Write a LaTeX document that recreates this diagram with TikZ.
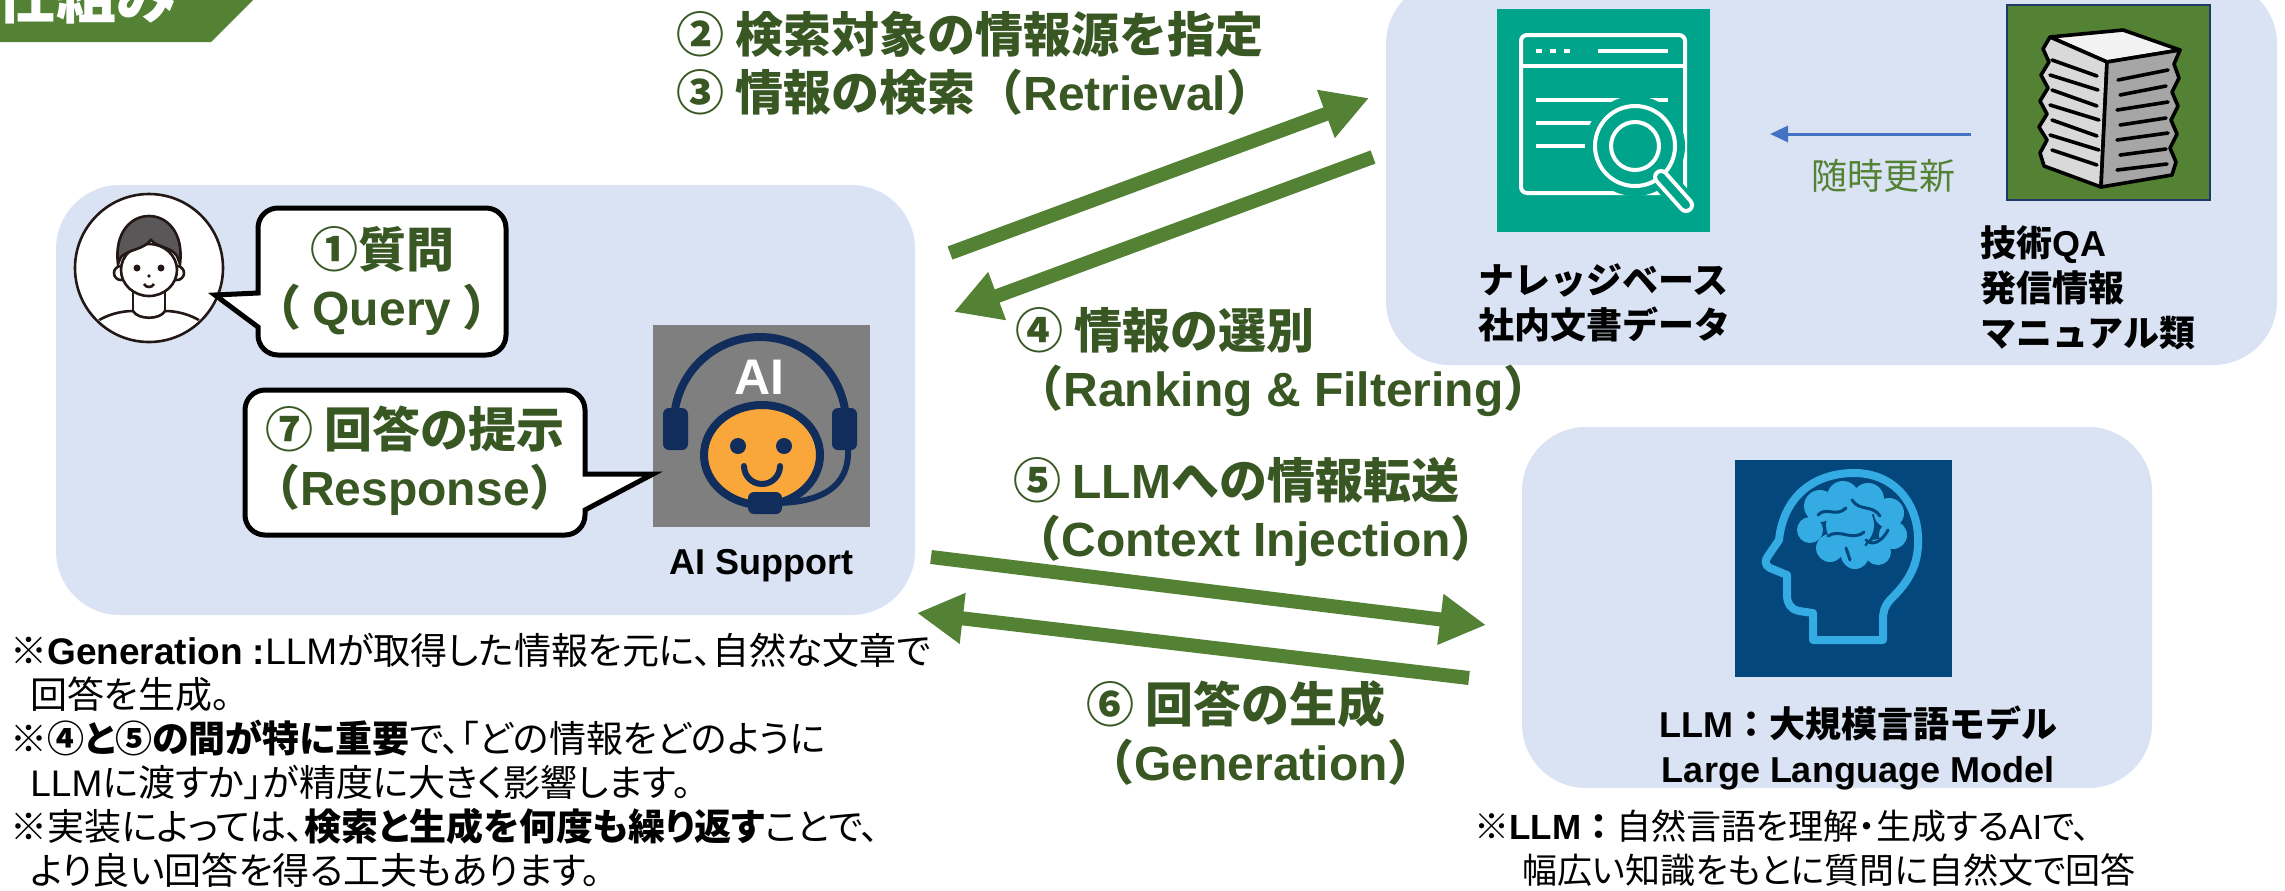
\documentclass[tikz,border=0pt]{standalone}
\usepackage{fontspec}
\setmainfont{Noto Sans CJK JP}
\newfontfamily\latinfont{Liberation Sans}
\newfontfamily\jpnote[RawFeature=+palt]{Noto Sans CJK JP}
\usetikzlibrary{arrows.meta}
\usetikzlibrary{fit}
\usetikzlibrary{positioning}

\definecolor{panelblue}{RGB}{218,227,243}
\definecolor{flowgreen}{RGB}{84,130,53}
\definecolor{labelgreen}{RGB}{56,87,35}
\definecolor{updateblue}{RGB}{68,114,196}
\definecolor{icongrey}{RGB}{127,127,127}
\definecolor{headsetnavy}{RGB}{17,45,92}
\definecolor{faceorange}{RGB}{249,167,58}
\definecolor{kbteal}{RGB}{0,164,138}
\definecolor{docborder}{RGB}{31,56,100}
\definecolor{llmnavy}{RGB}{3,71,124}
\definecolor{brainblue}{RGB}{52,171,226}
\definecolor{personline}{RGB}{35,24,21}
\definecolor{hairgrey}{RGB}{89,87,87}

\tikzset {
  panel/.style = {
    fill = panelblue,
    rounded corners = 32pt,
    inner sep = 0
  },
  % speech bubble with a pointed tail
  bubble/.style = {
    draw = black,
    fill = white,
    line width = 2.5pt
  },
  bubble text/.style = {
    text = labelgreen,
    font = \fontsize{24}{29}\selectfont\bfseries,
    align = center,
    inner sep = 0
  },
  % thick green step arrow
  flow/.style = {
    draw = flowgreen,
    line width = 7pt,
    -{Triangle[length = 23pt, width = 24pt]}
  },
  flow label/.style = {
    text = labelgreen,
    font = \fontsize{24}{29}\selectfont\bfseries,
    align = left,
    inner sep = 0,
    anchor = west
  },
  update/.style = {
    draw = updateblue,
    line width = 1.5pt,
    -{Triangle[length = 9pt, width = 8pt]}
  },
  caption/.style = {
    font = \fontsize{18}{22.5}\selectfont\bfseries,
    align = left,
    inner sep = 0
  },
  note/.style = {
    font = \jpnote\fontsize{18.5}{22}\selectfont,
    align = left,
    inner sep = 0,
    anchor = west
  },
  icon/.style = {
    inner sep = 0
  },
  person/.style = {
    draw = personline,
    line width = 1.3pt
  },
  kbline/.style = {
    draw = white,
    line width = 2pt
  },
  paper/.style = {
    draw = black,
    line width = 1.8pt,
    line join = round,
    line cap = round
  }
}

\begin{document}
\begin{tikzpicture}[x = 0.5pt, y = -0.5pt]
    \useasboundingbox (0,0) rectangle (2285,890);
    \fill[white] (0,0) rectangle (2285,890);

    % title tab
    \fill[flowgreen] (0,-10) -- (263,-10) -- (211,42) -- (0,42) -- cycle;
    \node[anchor = base west, inner sep = 0, text = white,
      font = \fontsize{30}{30}\selectfont\bfseries] (title) at (-4,18) {仕組み};

    % panels
    \node[panel, fit = {(56,185) (915,615)}] (user panel) {};
    \node[panel, fit = {(1386,-20) (2277,365)}] (source panel) {};
    \node[panel, fit = {(1522,427) (2152,788)}] (llm panel) {};

    % user
    \node[person, circle, fill = white, minimum size = 74pt, inner sep = 0] (user) at (149,268) {};
    \begin{scope}
      \clip (149,268) circle (72);
      \draw[person] (96,322) .. controls (108,314) and (122,311) .. (133,311);
      \draw[person] (165,311) .. controls (176,311) and (190,314) .. (202,322);
    \end{scope}
    \draw[person] (133,311) .. controls (138,320) and (160,320) .. (165,311);
    \draw[person] (133,290) -- (133,311);
    \draw[person] (165,290) -- (165,311);
    \draw[person, fill = white] (121,273) circle (7);
    \draw[person, fill = white] (177,273) circle (7);
    \draw[person, fill = white] (149,270) ellipse [x radius = 28, y radius = 26];
    \draw[person, fill = hairgrey] (118,264) .. controls (110,200) and (188,200) .. (180,264)
      -- (177,256) .. controls (170,246) and (158,248) .. (151,240)
      .. controls (143,250) and (129,249) .. (121,257) -- cycle;
    \fill[personline] (137,268) circle (3.5);
    \fill[personline] (161,268) circle (3.5);
    \fill[personline] (149,276) circle (1.8);
    \draw[person] (144,284) .. controls (146,288) and (152,288) .. (154,284);

    % question bubble
    \draw[bubble] (258,293) [rounded corners = 10pt] -- (258,208) -- (506,208)
      -- (506,355) -- (258,355) [sharp corners] -- (258,327) -- (215,295) -- cycle;
    \node[bubble text] (query) at (382,281) {①質問\\（ {\latinfont Query} ）};

    % AI support
    \node[icon, fill = icongrey, fit = {(653,325) (870,527)}] (ai icon) {};
    \draw[headsetnavy, line width = 4pt] (674,423) arc[start angle = 180, end angle = 360, radius = 86];
    \fill[headsetnavy, rounded corners = 3pt] (663,408) rectangle (688,450);
    \fill[headsetnavy, rounded corners = 3pt] (832,408) rectangle (857,450);
    \node[text = white, inner sep = 0, font = \latinfont\fontsize{25}{25}\selectfont\bfseries]
      (ai text) at (759,377) {AI};
    \draw[headsetnavy, line width = 4pt, fill = faceorange] (762,455) ellipse [x radius = 58, y radius = 50];
    \fill[headsetnavy] (738,446) circle (8);
    \fill[headsetnavy] (784,446) circle (8);
    \draw[headsetnavy, line width = 3pt, line cap = round] (744,466) arc[start angle = 180, end angle = 0, radius = 18];
    \draw[headsetnavy, line width = 3pt] (848,448) .. controls (850,488) and (820,502) .. (778,503);
    \fill[headsetnavy, rounded corners = 3pt] (748,492) rectangle (782,514);
    \node[caption, below = 11pt of ai icon] (ai label) {\latinfont AI Support};

    % answer bubble
    \draw[bubble] (585,474) [rounded corners = 10pt] -- (585,390) -- (245,390)
      -- (245,535) -- (585,535) [sharp corners] -- (585,510) -- (653,474) -- cycle;
    \node[bubble text] (response) at (415,461) {⑦ 回答の提示\\（{\latinfont Response}）};

    % knowledge base
    \node[icon, fill = kbteal, fit = {(1497,9) (1710,232)}] (kb icon) {};
    \draw[kbline, rounded corners = 3pt] (1521,35) rectangle (1685,193);
    \draw[kbline] (1521,66) -- (1685,66);
    \draw[kbline] (1536,51) -- (1542,51);
    \draw[kbline] (1550,51) -- (1556,51);
    \draw[kbline] (1564,51) -- (1570,51);
    \draw[kbline] (1598,51) -- (1668,51);
    \draw[kbline] (1536,100) -- (1668,100);
    \draw[kbline] (1536,123) -- (1598,123);
    \draw[kbline] (1536,146) -- (1590,146);
    \fill[kbteal] (1635,146) circle (50);
    \draw[kbteal, line width = 12pt] (1660,176) -- (1690,210);
    \draw[kbline] (1635,146) circle (40);
    \draw[kbline] (1635,146) circle (24);
    \draw[white, line width = 8pt, line cap = round] (1661,177) -- (1686,205);
    \draw[kbteal, line width = 4pt, line cap = round] (1661,177) -- (1686,205);
    \node[caption, anchor = west] (kb label) at (1478,303) {ナレッジベース\\社内文書データ};

    % documents
    \node[icon, fill = flowgreen, draw = docborder, line width = 1.2pt,
      fit = {(2007,5) (2210,200)}] (doc icon) {};
    \draw[paper, fill = black!5] (2050,37) -- (2123,30) -- (2180,50) -- (2107,62) -- cycle;
    \draw[paper, fill = black!15] (2050,37) -- (2107,62) -- (2101,187) -- (2044,166)
      -- (2040,153) -- (2047,140) -- (2039,127) -- (2047,114) -- (2040,101)
      -- (2048,88) -- (2041,75) -- (2049,62) -- (2043,49) -- cycle;
    \draw[paper, fill = black!35] (2107,62) -- (2180,50) -- (2174,64) -- (2179,78)
      -- (2172,92) -- (2178,106) -- (2171,120) -- (2177,134) -- (2170,148)
      -- (2176,162) -- (2172,175) -- (2101,187) -- cycle;
    \draw[paper] (2052,60) -- (2097,76);
    \draw[paper] (2050,75) -- (2098,90);
    \draw[paper] (2052,90) -- (2097,106);
    \draw[paper] (2050,105) -- (2099,120);
    \draw[paper] (2052,120) -- (2097,136);
    \draw[paper] (2050,135) -- (2099,150);
    \draw[paper] (2052,150) -- (2097,165);
    \draw[paper] (2118,80) -- (2168,70);
    \draw[paper] (2120,95) -- (2166,86);
    \draw[paper] (2117,110) -- (2168,102);
    \draw[paper] (2120,125) -- (2166,118);
    \draw[paper] (2117,140) -- (2168,133);
    \draw[paper] (2120,155) -- (2166,149);
    \draw[paper] (2117,170) -- (2167,164);
    \node[caption, anchor = west] (doc label) at (1980,288)
      {技術{\latinfont QA}\\発信情報\\マニュアル類};

    % update feed
    \coordinate (update from) at (1971,134);
    \coordinate (update to) at (1770,134);
    \draw[update] (update from) -- (update to);
    \node[text = flowgreen, inner sep = 0, font = \fontsize{18}{18}\selectfont]
      (update label) at (1883,176) {随時更新};

    % LLM
    \node[icon, fill = llmnavy, fit = {(1735,460) (1952,677)}] (llm icon) {};
    \fill[brainblue] (1820,506) circle (16);
    \fill[brainblue] (1843,497) circle (16);
    \fill[brainblue] (1868,499) circle (16);
    \fill[brainblue] (1889,513) circle (15);
    \fill[brainblue] (1893,535) circle (14);
    \fill[brainblue] (1878,552) circle (13);
    \fill[brainblue] (1855,555) circle (14);
    \fill[brainblue] (1830,548) circle (14);
    \fill[brainblue] (1810,530) circle (13);
    \fill[brainblue] (1850,525) circle (24);
    \draw[llmnavy, line width = 1.5pt, line cap = round]
      (1818,515) .. controls (1826,506) and (1836,518) .. (1846,508);
    \draw[llmnavy, line width = 1.5pt, line cap = round]
      (1852,500) .. controls (1860,512) and (1872,504) .. (1880,516);
    \draw[llmnavy, line width = 1.5pt, line cap = round]
      (1828,536) .. controls (1840,528) and (1852,542) .. (1864,532);
    \draw[llmnavy, line width = 1.5pt, line cap = round]
      (1866,540) .. controls (1874,548) and (1884,538) .. (1888,530);
    \draw[llmnavy, line width = 1.5pt, line cap = round]
      (1846,548) -- (1850,560);
    \draw[brainblue, line width = 4pt, line join = round]
      (1813,640) -- (1813,613) -- (1799,611) .. controls (1790,609) and (1787,603) .. (1787,595)
      -- (1787,575) -- (1770,568) .. controls (1764,565) and (1765,560) .. (1768,556)
      -- (1779,540) .. controls (1783,500) and (1810,474) .. (1852,473)
      .. controls (1895,472) and (1920,505) .. (1918,545)
      .. controls (1917,570) and (1905,585) .. (1890,600)
      .. controls (1884,607) and (1883,612) .. (1883,620) -- (1883,640) -- cycle;
    \node[caption, align = center] (llm label) at (1858,748)
      {{\latinfont LLM}：大規模言語モデル\\{\latinfont Large Language Model}};

    % retrieval round trip
    \coordinate (retrieve from) at (950,253);
    \coordinate (retrieve to) at (1369,98);
    \coordinate (select from) at (1373,157);
    \coordinate (select to) at (954,312);
    \draw[flow] (retrieve from) -- (retrieve to);
    \draw[flow] (select from) -- (select to);
    \node[flow label] (retrieve label) at (676,63)
      {② 検索対象の情報源を指定\\③ 情報の検索（{\latinfont Retrieval}）};
    \node[flow label] (select label) at (1015,362)
      {④ 情報の選別\\（{\latinfont Ranking \& Filtering}）};

    % generation round trip
    \coordinate (inject from) at (931,557);
    \coordinate (inject to) at (1486,625);
    \coordinate (generate from) at (1469,678);
    \coordinate (generate to) at (917,613);
    \draw[flow] (inject from) -- (inject to);
    \draw[flow] (generate from) -- (generate to);
    \node[flow label] (inject label) at (1013,512)
      {⑤ {\latinfont LLM}への情報転送\\（{\latinfont Context Injection}）};
    \node[flow label] (generate label) at (1086,733)
      {⑥ 回答の生成\\（{\latinfont Generation}）};

    % notes
    \node[note] (generation note) at (10,760)
      {※{\latinfont\bfseries Generation :}{\latinfont LLM}が取得した情報を元に、自然な文章で\\
       \hspace*{10pt}回答を生成。\\
       ※{\bfseries ④と⑤の間が特に重要}で、「どの情報をどのように\\
       \hspace*{10pt}{\latinfont LLM}に渡すか」が精度に大きく影響します。\\
       ※実装によっては、{\bfseries 検索と生成を何度も繰り返す}ことで、\\
       \hspace*{10pt}より良い回答を得る工夫もあります。};
    \node[note, font = \jpnote\fontsize{17.5}{22}\selectfont] (llm note) at (1474,848)
      {※{\latinfont\bfseries LLM}{\rmfamily\bfseries ：}自然言語を理解・生成する{\latinfont AI}で、\\
       \hspace*{24pt}幅広い知識をもとに質問に自然文で回答};
\end{tikzpicture}
\end{document}
